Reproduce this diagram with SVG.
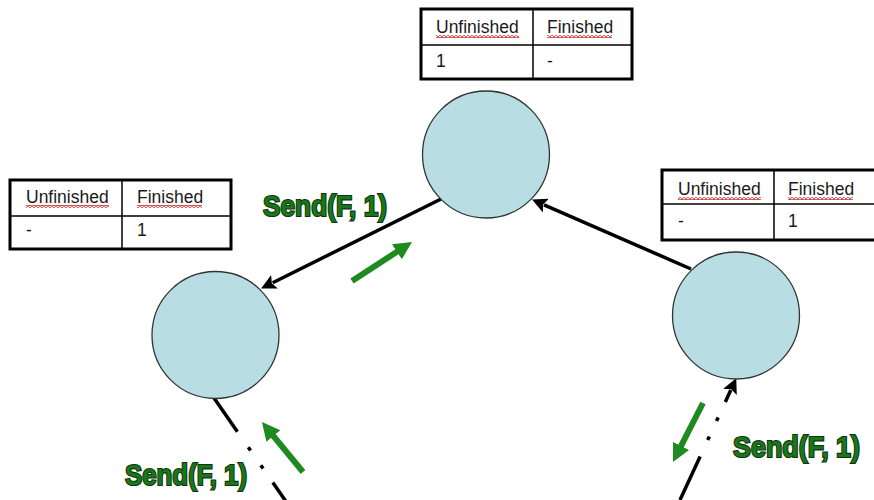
<svg xmlns="http://www.w3.org/2000/svg" width="874" height="500" viewBox="0 0 874 500">
  <style>
    .node { fill: #b8dee3; stroke: #333; stroke-width: 1.3; }
    .frame { fill: #fff; stroke: #000; stroke-width: 3; }
    .grid { stroke: #000; stroke-width: 1.5; }
    .cell { font-family: "Liberation Sans", Arial, sans-serif; font-size: 17.5px; fill: #1a1a1a; }
    .link { fill: none; stroke: #000; stroke-width: 3.5; }
    .flow { fill: none; stroke: #1f8a1f; stroke-width: 6; }
    .msg { font-family: "Liberation Sans", Arial, sans-serif; font-weight: bold; font-size: 30px; fill: #1b761b; stroke: #0c330c; stroke-width: 2.2; paint-order: stroke; }
  </style>
  <defs>
    <marker id="headBlack" viewBox="0 -8 16 16" markerWidth="16" markerHeight="16" refX="2" refY="0" orient="auto" markerUnits="userSpaceOnUse">
      <path d="M0,-7.5 L15,0 L0,7.5 L3,0 z" fill="#000"/>
    </marker>
    <marker id="headGreen" viewBox="0 -10 20 20" markerWidth="20" markerHeight="20" refX="2" refY="0" orient="auto" markerUnits="userSpaceOnUse">
      <path d="M0,-9 L18,0 L0,9 z" fill="#1f8a1f"/>
    </marker>
    <!-- red wavy underline used under the header words -->
    <pattern id="squiggle" width="4" height="3" patternUnits="userSpaceOnUse">
      <path d="M0,2.5 L2,0.5 L4,2.5" fill="none" stroke="#d42a2a" stroke-width="1.1"/>
    </pattern>
  </defs>

  <!-- connectors between nodes -->
  <g id="connectors">
    <line class="link" x1="441" y1="199" x2="272.7" y2="282.7" marker-end="url(#headBlack)"/>
    <line class="link" x1="691" y1="269" x2="544" y2="204.8" marker-end="url(#headBlack)"/>
    <line class="link" x1="214" y1="398" x2="294" y2="513" stroke-dasharray="41 19 4 18 4 17 60"/>
    <line class="link" x1="680" y1="500" x2="730.8" y2="390.1" stroke-dasharray="48 18 4 17 4 17 40" marker-end="url(#headBlack)"/>
  </g>

  <!-- message direction arrows -->
  <g id="flows">
    <line class="flow" x1="352" y1="281" x2="398.6" y2="250.7" marker-end="url(#headGreen)"/>
    <line class="flow" x1="303" y1="472" x2="272.1" y2="434.4" marker-end="url(#headGreen)"/>
    <line class="flow" x1="703" y1="403" x2="680.2" y2="447.7" marker-end="url(#headGreen)"/>
  </g>

  <!-- nodes -->
  <g id="node-top">
    <circle class="node" cx="486" cy="154.5" r="63.5"/>
  </g>
  <g id="node-left">
    <circle class="node" cx="215.5" cy="335" r="63.5"/>
  </g>
  <g id="node-right">
    <circle class="node" cx="736" cy="315.5" r="63.5"/>
  </g>

  <!-- state tables -->
  <g id="table-top">
    <rect class="frame" x="421" y="9" width="211" height="70"/>
    <line class="grid" x1="533" y1="9" x2="533" y2="79"/>
    <line class="grid" x1="421" y1="45" x2="632" y2="45"/>
    <text class="cell" x="436" y="33">Unfinished</text>
    <text class="cell" x="547" y="33">Finished</text>
    <rect x="436" y="35" width="83" height="3" fill="url(#squiggle)"/>
    <rect x="547" y="35" width="65" height="3" fill="url(#squiggle)"/>
    <text class="cell" x="436" y="67">1</text>
    <text class="cell" x="547" y="67">-</text>
  </g>
  <g id="table-left">
    <rect class="frame" x="10" y="180" width="221" height="69"/>
    <line class="grid" x1="122" y1="180" x2="122" y2="249"/>
    <line class="grid" x1="10" y1="216" x2="231" y2="216"/>
    <text class="cell" x="26" y="203">Unfinished</text>
    <text class="cell" x="137" y="203">Finished</text>
    <rect x="26" y="205" width="83" height="3" fill="url(#squiggle)"/>
    <rect x="137" y="205" width="65" height="3" fill="url(#squiggle)"/>
    <text class="cell" x="26" y="236">-</text>
    <text class="cell" x="137" y="236">1</text>
  </g>
  <g id="table-right">
    <rect class="frame" x="662" y="170" width="214" height="70"/>
    <line class="grid" x1="774" y1="170" x2="774" y2="240"/>
    <line class="grid" x1="662" y1="204" x2="876" y2="204"/>
    <text class="cell" x="678" y="195">Unfinished</text>
    <text class="cell" x="788" y="195">Finished</text>
    <rect x="678" y="197" width="83" height="3" fill="url(#squiggle)"/>
    <rect x="788" y="197" width="65" height="3" fill="url(#squiggle)"/>
    <text class="cell" x="678" y="227">-</text>
    <text class="cell" x="788" y="227">1</text>
  </g>

  <!-- message labels -->
  <g id="labels">
    <text class="msg" x="263" y="216" textLength="124" lengthAdjust="spacingAndGlyphs">Send(F, 1)</text>
    <text class="msg" x="125" y="485" textLength="122" lengthAdjust="spacingAndGlyphs">Send(F, 1)</text>
    <text class="msg" x="733" y="457" textLength="127" lengthAdjust="spacingAndGlyphs">Send(F, 1)</text>
  </g>
</svg>
